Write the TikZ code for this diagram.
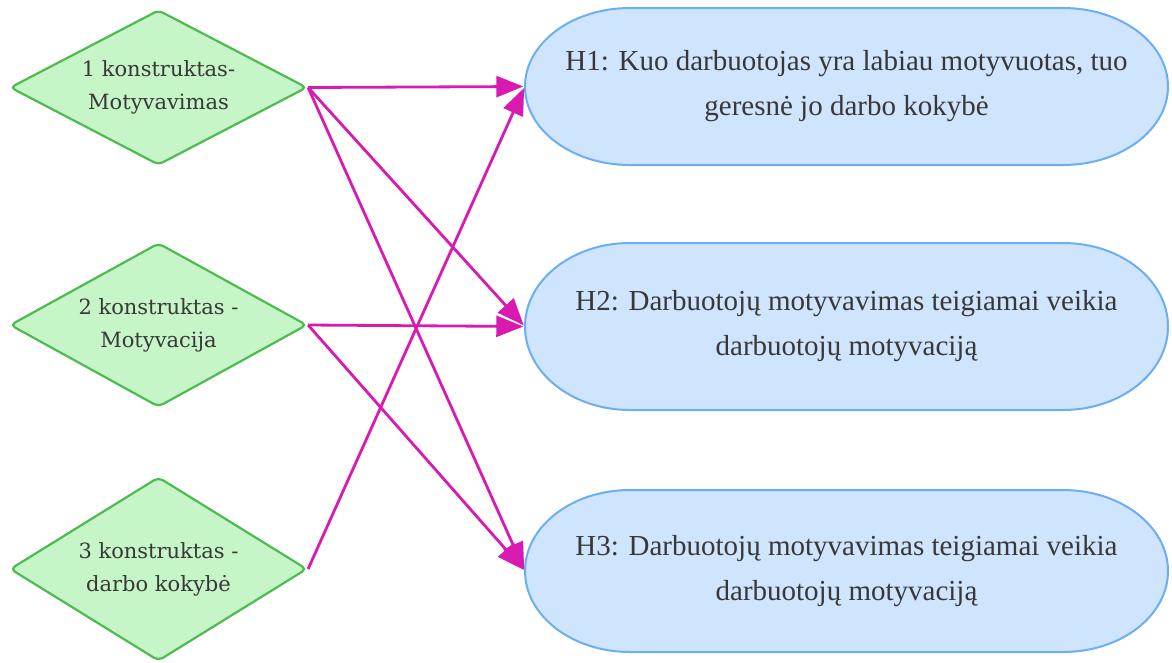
\documentclass[tikz,border=0pt]{standalone}
\usepackage{fontspec}
\setmainfont{Liberation Serif}
\newfontfamily\dfont{DejaVu Serif}
\usetikzlibrary{shapes.geometric,arrows.meta}
\definecolor{dfill}{HTML}{C6F5C8}
\definecolor{ddraw}{HTML}{4DBB4F}
\definecolor{efill}{HTML}{CFE4FD}
\definecolor{edraw}{HTML}{6BAEF5}
\definecolor{arr}{HTML}{D81AB0}
\definecolor{txt}{HTML}{383838}
\begin{document}
\begin{tikzpicture}[x=1pt,y=1pt,
  diam/.style={diamond, aspect=2, draw=ddraw, fill=dfill, line width=2.2pt, rounded corners=5pt,
    inner sep=0pt, minimum width=297pt, minimum height=#1, align=center,
    font=\dfont\fontsize{21}{33}\selectfont, text=txt},
  stad/.style={draw=edraw, fill=efill, line width=2pt},
  hyp/.style={rectangle, inner sep=0pt, minimum width=643pt, minimum height=150pt,
    align=center, font=\fontsize{29}{45}\selectfont, text=txt},
  link/.style={draw=arr, line width=2.8pt, -{Triangle[length=27pt,width=21pt]}, shorten >=1.5pt}
]
\useasboundingbox (0,0) rectangle (1172,-662);

% stadium shapes
\path[stad] (630,-8) -- (1063,-8) arc[start angle=90,end angle=-90,x radius=105,y radius=78.5]
  -- (630,-165) arc[start angle=-90,end angle=-270,x radius=105,y radius=78.5] -- cycle;
\path[stad] (630,-243) -- (1063,-243) arc[start angle=90,end angle=-90,x radius=105,y radius=83.5]
  -- (630,-410) arc[start angle=-90,end angle=-270,x radius=105,y radius=83.5] -- cycle;
\path[stad] (630,-490) -- (1063,-490) arc[start angle=90,end angle=-90,x radius=105,y radius=81]
  -- (630,-652) arc[start angle=-90,end angle=-270,x radius=105,y radius=81] -- cycle;

\node[hyp] (h1) at (846.5,-86.5) {H1: Kuo darbuotojas yra labiau motyvuotas, tuo\\geresnė jo darbo kokybė};
\node[hyp] (h2) at (846.5,-326.5) {H2: Darbuotojų motyvavimas teigiamai veikia\\darbuotojų motyvaciją};
\node[hyp] (h3) at (846.5,-571) {H3: Darbuotojų motyvavimas teigiamai veikia\\darbuotojų motyvaciją};

\node[diam=155pt] (d1) at (158.5,-87.5) {1 konstruktas-\\Motyvavimas};
\node[diam=164pt] (d2) at (158.5,-325) {2 konstruktas -\\Motyvacija};
\node[diam=184pt] (d3) at (158.5,-569) {3 konstruktas -\\darbo kokybė};

\draw[link] (d1.east) -- (h1.west);
\draw[link] (d1.east) -- (h2.west);
\draw[link] (d1.east) -- (h3.west);
\draw[link] (d2.east) -- (h2.west);
\draw[link] (d2.east) -- (h3.west);
\draw[link] (d3.east) -- (h1.west);
\end{tikzpicture}
\end{document}
